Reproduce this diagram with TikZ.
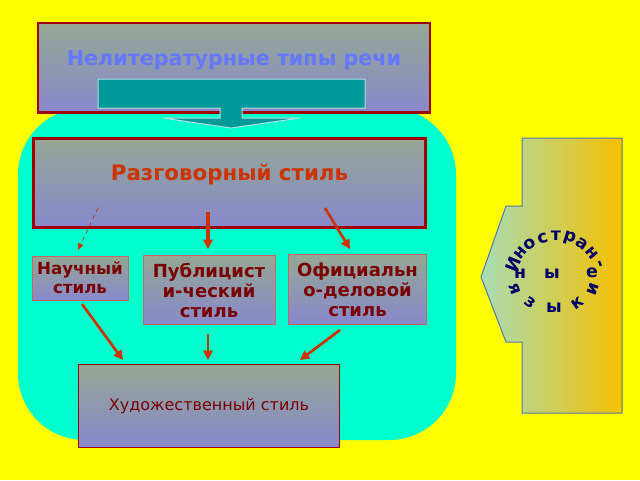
\documentclass[tikz,border=0pt]{standalone}
\usepackage{fontspec}
\setmainfont{DejaVu Sans}
\usetikzlibrary{arrows.meta}
\definecolor{bgyellow}{HTML}{FFFF00}
\definecolor{aqua}{HTML}{00FFCC}
\definecolor{boxtop}{HTML}{94A894}
\definecolor{boxbot}{HTML}{8888CC}
\definecolor{darkred}{HTML}{A00000}
\definecolor{teal}{HTML}{009999}
\definecolor{titleblue}{HTML}{6677FF}
\definecolor{orangered}{HTML}{CC3300}
\definecolor{styletext}{HTML}{7A0000}
\definecolor{navyletter}{HTML}{000066}
\definecolor{greenish}{HTML}{A8DCB4}
\definecolor{goldish}{HTML}{F5C000}
\definecolor{frameblue}{HTML}{5577AA}
\tikzset{every picture/.style={line width=0.75pt}}
\tikzset{
  stylebox/.style={draw=darkred,line width=2pt,top color=boxtop,bottom color=boxbot,inner sep=0pt},
  smallbox/.style={draw=darkred!60,line width=0.75pt,top color=boxtop,bottom color=boxbot,inner sep=0pt,align=center,text=styletext,font=\bfseries\fontsize{12.5}{14}\selectfont},
  redarrow/.style={draw=orangered,line width=2pt,-{Triangle[length=7pt,width=7pt]}},
  curvechar/.style={text=navyletter,font=\bfseries\fontsize{13}{13}\selectfont,inner sep=0pt}
}
\begin{document}
\begin{tikzpicture}[x=0.75pt,y=0.75pt,yscale=-1,xscale=1]
\fill[bgyellow] (0,0) rectangle (640,480);
\useasboundingbox (0,0) rectangle (640,480);

% Aqua field
\fill[aqua,rounded corners=50pt] (18,108) rectangle (456,440);

% Top box
\node[stylebox,minimum width=294pt,minimum height=67pt] (top) at (234,67.5) {};
\node[text=titleblue,font=\bfseries\fontsize{15.5}{16}\selectfont] (toptext) at (234,60) {Нелитературные типы речи};

% Teal block arrow
\draw[draw=white!70!teal,fill=teal] (98,79) -- (365,79) -- (365,108) -- (242,108) -- (242,118) -- (300,118)
  -- (231,128) -- (163,118) -- (220,118) -- (220,108) -- (98,108) -- cycle;

% Second box
\node[stylebox,minimum width=294pt,minimum height=67pt] (talk) at (229.5,183) {};
\node[text=orangered,font=\bfseries\fontsize{16}{17}\selectfont] (talktext) at (229.5,175) {Разговорный стиль};

% Style boxes
\node[smallbox,minimum width=72pt,minimum height=33pt] (sci) at (80,278) {Научный\\стиль};
\node[smallbox,minimum width=99pt,minimum height=52pt,font=\bfseries\fontsize{13.5}{15}\selectfont] (pub) at (209,290) {Публицист\\и-ческий\\стиль};
\node[smallbox,minimum width=103pt,minimum height=52pt,font=\bfseries\fontsize{13.5}{15}\selectfont] (off) at (357.5,289.5) {Официальн\\о-деловой\\стиль};
\node[smallbox,minimum width=196pt,minimum height=62pt,font=\fontsize{12}{13}\selectfont,draw=darkred] (art) at (209,406) {Художественный стиль};

% Arrows
\coordinate (a1) at (98,208);
\coordinate (a2) at (78,250);
\coordinate (b1) at (208,212);
\coordinate (b2) at (208,249);
\coordinate (c1) at (325,208);
\coordinate (c2) at (350,249);
\draw[draw=orangered,line width=0.5pt,dashed,-{Triangle[length=5pt,width=4pt]}] (a1) -- (a2);
\draw[redarrow,line width=3pt] (b1) -- (b2);
\draw[redarrow] (c1) -- (c2);
\coordinate (d1) at (82,304);
\coordinate (d2) at (123,360);
\coordinate (e1) at (208,334);
\coordinate (e2) at (208,360);
\coordinate (f1) at (340,330);
\coordinate (f2) at (300,360);
\draw[redarrow] (d1) -- (d2);
\draw[redarrow] (e1) -- (e2);
\draw[redarrow] (f1) -- (f2);

% Right callout
\draw[draw=frameblue,left color=greenish,right color=goldish] (522,138) -- (622,138) -- (622,413) -- (522,413)
  -- (522,342) -- (506,342) -- (481,277) -- (506,206) -- (522,206) -- cycle;

% Curved label
\foreach \ch [count=\i] in {И,н,о,с,т,р,а,н,-}{
  \pgfmathsetmacro\ang{158-(\i-1)*17}
  \pgfmathsetmacro\rot{\ang-90}
  \node[curvechar,rotate=\rot] at ({556+46*cos(\ang)},{282-46*sin(\ang)}) {\ch};
}
\foreach \ch/\x/\y in {н/520/274, ы/552/274, е/592/273}
  \node[curvechar] at (\x,\y) {\ch};
\foreach \ch [count=\i] in {я,з,ы,к,и}{
  \pgfmathsetmacro\ang{200+(\i-1)*35}
  \pgfmathsetmacro\rot{\ang+90}
  \node[curvechar,rotate=\rot] at ({554+42*cos(\ang)},{280-28*sin(\ang)}) {\ch};
}
\end{tikzpicture}
\end{document}
